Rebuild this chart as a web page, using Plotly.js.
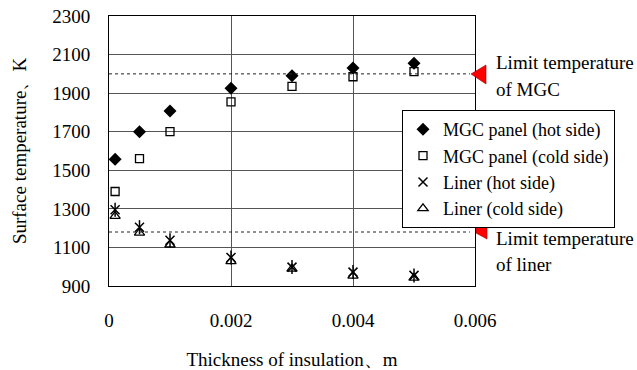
<!DOCTYPE html>
<html>
<head>
<meta charset="utf-8">
<script src="https://cdn.plot.ly/plotly-3.0.1.min.js"></script>
<style>html,body{margin:0;padding:0;background:#fff;}#chart{width:637px;height:370px;}</style>
</head>
<body>
<div id="chart"></div>
<script>
// ---- data ----
const thickness = [0.0001, 0.0005, 0.001, 0.002, 0.003, 0.004, 0.005];
const mgcHot    = [1557, 1700, 1808, 1925, 1990, 2030, 2055];
const mgcCold   = [1390, 1560, 1700, 1855, 1935, 1985, 2012];
const linerHot  = [1295, 1205, 1137, 1048, 998, 972, 955];
const linerCold = [1262, 1175, 1114, 1028, 989, 952, 942];
const limitMGC = 2000;
const limitLiner = 1180;
const seriesNames = ['MGC panel (hot side)', 'MGC panel (cold side)', 'Liner (hot side)', 'Liner (cold side)'];
const xTickVals = [0, 0.002, 0.004, 0.006];
const xTickText = ['0', '0.002', '0.004', '0.006'];
const yTickVals = [900, 1100, 1300, 1500, 1700, 1900, 2100, 2300];

// ---- layout helpers ----
const W = 637, H = 370;
const M = {l: 109, r: 162, t: 16, b: 84};
const PW = W - M.l - M.r, PH = H - M.t - M.b;
function px(x, y) { return ((x - M.l) / PW).toFixed(4) + ',' + ((H - M.b - y) / PH).toFixed(4); }
function pxX(x) { return (x - M.l) / PW; }
function pxY(y) { return (H - M.b - y) / PH; }

const FONT = 'Liberation Serif';

const traces = [
  {x: thickness, y: mgcHot, name: seriesNames[0], type: 'scatter', mode: 'markers',
   marker: {symbol: 'diamond', size: 10, color: '#000'}},
  {x: thickness, y: mgcCold, name: seriesNames[1], type: 'scatter', mode: 'markers',
   marker: {symbol: 'square-open', size: 8, color: '#000', line: {width: 1.3, color: '#000'}}},
  {x: thickness, y: linerHot, name: seriesNames[2], type: 'scatter', mode: 'markers', legendgroup: 'lh',
   marker: {symbol: 'x-thin-open', size: 9, color: '#000', line: {width: 1.5, color: '#000'}}},
  {x: thickness, y: linerHot, name: seriesNames[2], type: 'scatter', mode: 'markers', legendgroup: 'lh', showlegend: false,
   marker: {symbol: 'line-ns-open', size: 10, color: '#000', line: {width: 1.5, color: '#000'}}},
  {x: thickness, y: linerCold, name: seriesNames[3], type: 'scatter', mode: 'markers',
   marker: {symbol: 'triangle-up-open', size: 9, color: '#000', line: {width: 1.3, color: '#000'}}}
];

const layout = {
  width: W, height: H,
  margin: M,
  paper_bgcolor: '#fff', plot_bgcolor: '#fff',
  font: {family: FONT, size: 19, color: '#000'},
  showlegend: true,
  legend: {
    x: pxX(402), y: pxY(110), xanchor: 'left', yanchor: 'top',
    bgcolor: '#fff', bordercolor: '#000', borderwidth: 1,
    font: {family: FONT, size: 18, color: '#000'},
    tracegroupgap: 0, itemwidth: 30
  },
  xaxis: {
    range: [0, 0.006], tickvals: xTickVals, ticktext: xTickText,
    showgrid: true, gridcolor: '#555', gridwidth: 1,
    showline: true, linecolor: '#000', linewidth: 1, mirror: true,
    zeroline: false, ticks: '', ticklabelstandoff: 17,
    tickfont: {family: FONT, size: 19, color: '#000'},
    title: {text: 'Thickness of insulation、m', font: {family: FONT, size: 19, color: '#000'}, standoff: 24}
  },
  xaxis2: {
    overlaying: 'x', matches: 'x', range: [0, 0.006], tickvals: [0.002, 0.004],
    ticks: 'outside', ticklen: 9, tickcolor: '#555', tickwidth: 1,
    showticklabels: false, showgrid: false, showline: false, zeroline: false
  },
  yaxis: {
    range: [900, 2300], tickvals: yTickVals,
    showgrid: true, gridcolor: '#555', gridwidth: 1,
    showline: true, linecolor: '#000', linewidth: 1, mirror: true,
    zeroline: false, ticks: '', ticklabelstandoff: 14,
    tickfont: {family: FONT, size: 19, color: '#000'},
    title: {text: 'Surface temperature、K', font: {family: FONT, size: 19, color: '#000'}, standoff: 20}
  },
  shapes: [
    {type: 'line', xref: 'paper', yref: 'y', x0: 0, x1: pxX(470), y0: limitMGC, y1: limitMGC,
     line: {color: '#222', width: 1, dash: 'dot'}},
    {type: 'line', xref: 'paper', yref: 'y', x0: 0, x1: pxX(470), y0: limitLiner, y1: limitLiner,
     line: {color: '#222', width: 1, dash: 'dot'}},
    {type: 'path', xref: 'paper', yref: 'paper',
     path: 'M' + px(471, 74) + ' L' + px(486, 65) + ' L' + px(486, 84) + ' Z',
     fillcolor: '#ff0000', line: {color: '#900', width: 0.6}},
    {type: 'path', xref: 'paper', yref: 'paper',
     path: 'M' + px(476, 225) + ' L' + px(487, 219) + ' L' + px(487, 239) + ' L' + px(476, 233) + ' Z',
     fillcolor: '#ff0000', line: {color: '#900', width: 0.6}}
  ],
  annotations: [
    {text: 'Limit temperature', xref: 'paper', yref: 'paper', x: pxX(494), y: pxY(63), xanchor: 'left', yanchor: 'middle', showarrow: false, font: {family: FONT, size: 19, color: '#000'}},
    {text: 'of MGC', xref: 'paper', yref: 'paper', x: pxX(494), y: pxY(89), xanchor: 'left', yanchor: 'middle', showarrow: false, font: {family: FONT, size: 19, color: '#000'}},
    {text: 'Limit temperature', xref: 'paper', yref: 'paper', x: pxX(494), y: pxY(238), xanchor: 'left', yanchor: 'middle', showarrow: false, font: {family: FONT, size: 19, color: '#000'}},
    {text: 'of liner', xref: 'paper', yref: 'paper', x: pxX(494), y: pxY(264), xanchor: 'left', yanchor: 'middle', showarrow: false, font: {family: FONT, size: 19, color: '#000'}}
  ]
};

Plotly.newPlot('chart', traces, layout, {displayModeBar: false, staticPlot: true});
</script>
</body>
</html>
